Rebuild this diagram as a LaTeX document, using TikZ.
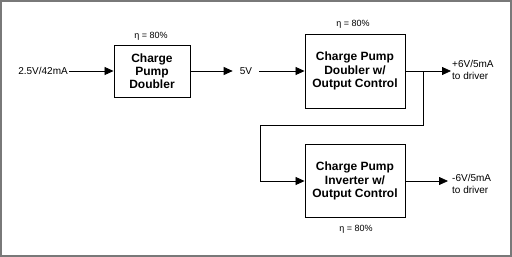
\documentclass[tikz,border=0pt]{standalone}
\usepackage{fontspec}
\setmainfont{Liberation Sans}
\usetikzlibrary{arrows.meta}
\begin{document}
\begin{tikzpicture}[x=1pt,y=-1pt,
  blk/.style={draw=black,line width=0.9pt,minimum width=100pt,minimum height=74pt,inner sep=0pt,align=center,
     font=\fontsize{12}{13.2}\selectfont\bfseries},
  lbl/.style={inner sep=1pt,font=\fontsize{10}{12}\selectfont,align=left},
  eta/.style={inner sep=0pt,font=\fontsize{9}{11}\selectfont},
  arr/.style={line width=0.8pt,-{Triangle[length=9pt,width=8pt]}},
  ln/.style={line width=0.8pt}]
\useasboundingbox (0,0) rectangle (512,257);
\draw[gray!95!black,line width=2pt] (1,0.5) rectangle (511,256);
% boxes
\node[blk,minimum width=76pt,minimum height=52pt] (b1) at (152,71) {Charge\\Pump\\Doubler};
\node[blk] (b2) at (355,71) {Charge Pump\\Doubler w/\\Output Control};
\node[blk,minimum height=73pt] (b3) at (355,181) {Charge Pump\\Inverter w/\\Output Control};
% labels
\node[eta] (e1) at (151,36) {η = 80\%};
\node[eta] (e2) at (353,24) {η = 80\%};
\node[eta] (e3) at (356,229) {η = 80\%};
\node[lbl,anchor=east] (in) at (69,71) {2.5V/42mA};
\node[lbl,inner xsep=7pt] (v5) at (246,71) {5V};
\node[lbl,anchor=west] (o1) at (451,70) {+6V/5mA\\to driver};
\node[lbl,anchor=west] (o2) at (451,184) {-6V/5mA\\to driver};
% connectors
\coordinate (j) at (423,71);
\coordinate (c1) at (423,125);
\coordinate (c2) at (260,125);
\coordinate (t2) at (448,181);
\draw[arr] (in.east) -- (b1.west);
\draw[arr] (b1.east) -- (v5.west);
\draw[arr] (v5.east) -- (b2.west);
\draw[arr] (b2.east) -- (o1.west |- b2.east);
\draw[ln] (j) -- (c1) -- (c2) -- (c2 |- b3.west);
\draw[arr] (c2 |- b3.west) -- (b3.west);
\draw[arr] (b3.east) -- (t2);
\end{tikzpicture}
\end{document}
